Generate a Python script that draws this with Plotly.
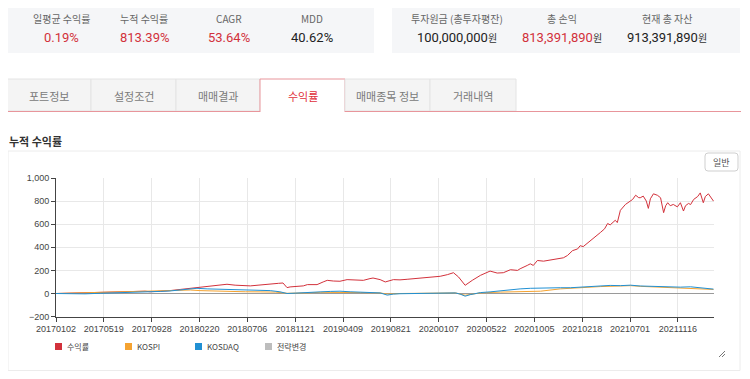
import plotly.graph_objects as go

# ---------------- data ----------------
tick_labels = ["20170102", "20170519", "20170928", "20180220", "20180706", "20181121", "20190409",
               "20190821", "20200107", "20200522", "20201005", "20210218", "20210701", "20211116"]
tick_step = 94  # trading days between labelled ticks
last_day = 1293

ret_day = [0, 28, 57, 87, 116, 146, 175, 185, 205, 224, 244, 264, 277, 297, 313, 336, 352, 368, 382, 397,
           407, 421, 437, 446, 454, 460, 470, 486, 494, 513, 525, 533, 545, 558, 572, 588, 604, 617, 623, 637,
           647, 663, 676, 690, 706, 722, 735, 755, 769, 781, 791, 798, 804, 818, 834, 853, 867, 879, 893, 907,
           912, 926, 932, 938, 946, 958, 971, 985, 997, 1005, 1015, 1025, 1030, 1036, 1050, 1060, 1070, 1078,
           1084, 1089, 1099, 1103, 1109, 1119, 1125, 1133, 1139, 1145, 1148, 1154, 1160, 1164, 1168, 1174,
           1182, 1188, 1194, 1198, 1202, 1207, 1213, 1221, 1227, 1233, 1237, 1243, 1247, 1253, 1261, 1266,
           1272, 1276, 1282, 1288, 1292]
ret_val = [0, 3, 6, 10, 14, 18, 20, 15, 18, 25, 35, 45, 50, 57, 65, 80, 72, 70, 66, 72,
           77, 86, 88, 91, 51, 57, 62, 66, 77, 77, 100, 114, 108, 106, 120, 116, 114, 129, 134, 120,
           100, 120, 118, 123, 130, 134, 140, 149, 163, 180, 143, 100, 71, 114, 157, 194, 177, 180, 206, 200,
           214, 243, 257, 243, 286, 280, 291, 300, 309, 329, 371, 386, 414, 406, 457, 486, 529, 560,
           606, 594, 634, 614, 720, 771, 790, 814, 851, 830, 829, 843, 800, 737, 820, 863,
           850, 829, 700, 760, 786, 760, 771, 750, 786, 714, 760, 780, 770, 814, 840, 871,
           786, 840, 863, 820, 800]

kosdaq_day = [0, 28, 57, 87, 116, 146, 175, 185, 205, 224, 244, 264, 277, 297, 313, 336, 362, 382, 401, 421,
              440, 454, 470, 490, 519, 539, 558, 578, 598, 617, 637, 651, 663, 676, 706, 735, 765, 785, 794,
              804, 814, 834, 853, 873, 893, 912, 932, 952, 971, 991, 1011, 1030, 1050, 1070, 1089, 1109,
              1129, 1148, 1168, 1188, 1207, 1227, 1247, 1266, 1280, 1292]
kosdaq_val = [0, -2, -3, 2, 5, 8, 10, 12, 18, 22, 30, 43, 45, 40, 38, 35, 30, 28, 30, 25,
              15, 0, 3, 10, 14, 18, 20, 15, 10, 8, 5, -14, -5, -2, 0, 5, 8, 5, -5,
              -23, -10, 8, 14, 25, 35, 40, 45, 48, 45, 50, 50, 55, 62, 65, 70, 68,
              72, 65, 62, 58, 60, 55, 58, 52, 45, 38]

kospi_day = [0, 28, 57, 87, 116, 146, 175, 185, 205, 224, 244, 264, 283, 313, 342, 372, 401, 431, 454, 470,
             490, 519, 558, 598, 637, 651, 676, 735, 785, 804, 834, 873, 912, 952, 991, 1030, 1070, 1109,
             1129, 1148, 1188, 1227, 1266, 1292]
kospi_val = [0, 3, 8, 12, 16, 20, 22, 18, 20, 22, 25, 30, 25, 20, 18, 15, 14, 12, 2, 2,
             5, 10, 12, 8, 5, -5, 0, 3, 5, -15, 5, 12, 15, 20, 40, 52, 60, 65,
             68, 62, 55, 50, 45, 35]

stat_labels_l = ["일평균 수익률", "누적 수익률", "CAGR", "MDD"]
stat_values_l = ["0.19%", "813.39%", "53.64%", "40.62%"]
stat_labels_r = ["투자원금 (총투자평잔)", "총 손익", "현재 총 자산"]
stat_values_r = ["100,000,000", "813,391,890", "913,391,890"]
tab_names = ["포트정보", "설정조건", "매매결과", "수익률", "매매종목 정보", "거래내역"]
legend_names = ["수익률", "KOSPI", "KOSDAQ", "전략변경"]

# ---------------- style ----------------
# the page body keeps its default 8px margin, so the figure starts at (8, 8)
OX, OY = 8, 8
W, H = 742, 363
RED = "#d2313b"
ORANGE = "#f5a331"
BLUE = "#2190d3"
GRAY = "#bdbdbd"
KFONT = "Noto Sans CJK KR, Noto Sans, sans-serif"
NFONT = "Roboto, Noto Sans CJK KR, sans-serif"


def fx(x):
    return (x - OX) / W


def fy(y):
    return 1 - (y - OY) / H


fig = go.Figure()
fig.add_trace(go.Scatter(x=ret_day, y=ret_val, mode="lines", name=legend_names[0],
                         line=dict(color=RED, width=1)))
fig.add_trace(go.Scatter(x=kospi_day, y=kospi_val, mode="lines", name=legend_names[1],
                         line=dict(color=ORANGE, width=1)))
fig.add_trace(go.Scatter(x=kosdaq_day, y=kosdaq_val, mode="lines", name=legend_names[2],
                         line=dict(color=BLUE, width=1)))

shapes = []
annotations = []

# stat panels
shapes.append(dict(type="rect", xref="paper", yref="paper", x0=fx(7), x1=fx(374), y0=fy(53), y1=fy(5),
                   fillcolor="#f5f6f8", line=dict(width=0), layer="below"))
shapes.append(dict(type="rect", xref="paper", yref="paper", x0=fx(392), x1=fx(740), y0=fy(53), y1=fy(5),
                   fillcolor="#f5f6f8", line=dict(width=0), layer="below"))
left_cx = [61, 144, 229, 312]
left_col = [RED, RED, RED, "#222222"]
for cx, lab, val, col in zip(left_cx, stat_labels_l, stat_values_l, left_col):
    annotations.append(dict(x=fx(cx), y=fy(19), xref="paper", yref="paper", text=lab, showarrow=False,
                            font=dict(family=KFONT, size=10, color="#666666"), xanchor="center", yanchor="middle"))
    annotations.append(dict(x=fx(cx), y=fy(38), xref="paper", yref="paper", text=val, showarrow=False,
                            font=dict(family=NFONT, size=13, color=col), xanchor="center", yanchor="middle"))
right_cx = [457, 562, 667]
right_col = ["#222222", RED, "#222222"]
for cx, lab, val, col in zip(right_cx, stat_labels_r, stat_values_r, right_col):
    annotations.append(dict(x=fx(cx), y=fy(19), xref="paper", yref="paper", text=lab, showarrow=False,
                            font=dict(family=KFONT, size=10, color="#666666"), xanchor="center", yanchor="middle"))
    annotations.append(dict(x=fx(cx), y=fy(38), xref="paper", yref="paper",
                            text=val + "<span style='font-size:10px;color:#333333'>원</span>", showarrow=False,
                            font=dict(family=NFONT, size=13, color=col), xanchor="center", yanchor="middle"))

# tabs
tab_edges = [7, 91, 176, 260, 345, 430, 516]
SEL = 3
PINK = "#e8959b"
for i, name in enumerate(tab_names):
    x0, x1 = tab_edges[i], tab_edges[i + 1]
    if i == SEL:
        shapes.append(dict(type="rect", xref="paper", yref="paper", x0=fx(x0), x1=fx(x1), y0=fy(112), y1=fy(79),
                           fillcolor="white", line=dict(width=0)))
        shapes.append(dict(type="path", xref="paper", yref="paper",
                           path=f"M {fx(x0)} {fy(112)} L {fx(x0)} {fy(79)} L {fx(x1)} {fy(79)} L {fx(x1)} {fy(112)}",
                           line=dict(color=PINK, width=1)))
        tcol = "#e0303a"
    else:
        shapes.append(dict(type="rect", xref="paper", yref="paper", x0=fx(x0), x1=fx(x1), y0=fy(111), y1=fy(79),
                           fillcolor="#f4f4f4", line=dict(color="#e4e4e4", width=1)))
        tcol = "#7a7a7a"
    annotations.append(dict(x=fx((x0 + x1) / 2), y=fy(96), xref="paper", yref="paper", text=name, showarrow=False,
                            font=dict(family=KFONT, size=11, color=tcol), xanchor="center", yanchor="middle"))
shapes.append(dict(type="line", xref="paper", yref="paper", x0=fx(7), x1=fx(260), y0=fy(111.5), y1=fy(111.5),
                   line=dict(color=PINK, width=1.2)))
shapes.append(dict(type="line", xref="paper", yref="paper", x0=fx(345), x1=fx(741), y0=fy(111.5), y1=fy(111.5),
                   line=dict(color=PINK, width=1.2)))

# section title
annotations.append(dict(x=fx(7), y=fy(141), xref="paper", yref="paper", text="<b>누적 수익률</b>", showarrow=False,
                        font=dict(family=KFONT, size=11, color="#333333"), xanchor="left", yanchor="middle"))

# chart container
shapes.append(dict(type="rect", xref="paper", yref="paper", x0=fx(8), x1=fx(740), y0=fy(370.5), y1=fy(151),
                   fillcolor="rgba(0,0,0,0)", line=dict(color="#ececec", width=1), layer="below"))
# "일반" button
bx0, bx1, by0, by1, r = 705, 738, 153, 171, 3
shapes.append(dict(type="path", xref="paper", yref="paper",
                   path=(f"M {fx(bx0 + r)} {fy(by0)} L {fx(bx1 - r)} {fy(by0)} Q {fx(bx1)} {fy(by0)} {fx(bx1)} {fy(by0 + r)} "
                         f"L {fx(bx1)} {fy(by1 - r)} Q {fx(bx1)} {fy(by1)} {fx(bx1 - r)} {fy(by1)} "
                         f"L {fx(bx0 + r)} {fy(by1)} Q {fx(bx0)} {fy(by1)} {fx(bx0)} {fy(by1 - r)} "
                         f"L {fx(bx0)} {fy(by0 + r)} Q {fx(bx0)} {fy(by0)} {fx(bx0 + r)} {fy(by0)} Z"),
                   fillcolor="white", line=dict(color="#cfcfcf", width=1)))
annotations.append(dict(x=fx(721.5), y=fy(162), xref="paper", yref="paper", text="일반", showarrow=False,
                        font=dict(family=KFONT, size=9, color="#555555"), xanchor="center", yanchor="middle"))
# resize handle
shapes.append(dict(type="line", xref="paper", yref="paper", x0=fx(719), x1=fx(725), y0=fy(357), y1=fy(351),
                   line=dict(color="#777777", width=1)))
shapes.append(dict(type="line", xref="paper", yref="paper", x0=fx(722), x1=fx(725), y0=fy(357), y1=fy(354),
                   line=dict(color="#777777", width=1)))

# legend (manual)
leg_x = [55, 125, 195, 265]
leg_c = [RED, ORANGE, BLUE, GRAY]
for lx, name, c in zip(leg_x, legend_names, leg_c):
    shapes.append(dict(type="rect", xref="paper", yref="paper", x0=fx(lx), x1=fx(lx + 7), y0=fy(350), y1=fy(343),
                       fillcolor=c, line=dict(width=0)))
    annotations.append(dict(x=fx(lx + 10), y=fy(346.5), xref="paper", yref="paper", text=name, showarrow=False,
                            font=dict(family="Liberation Sans Narrow, " + KFONT, size=8, color="#444444"),
                            xanchor="left", yanchor="middle"))

tick_font = dict(family="Liberation Sans Narrow, Liberation Sans, sans-serif", size=9, color="#444444")
fig.update_layout(
    width=W, height=H, margin=dict(l=0, r=0, t=0, b=0, pad=0, autoexpand=False),
    paper_bgcolor="white", plot_bgcolor="white",
    showlegend=False,
    shapes=shapes, annotations=annotations,
    xaxis=dict(domain=[fx(56), fx(714)], range=[0, last_day], automargin=False,
               tickmode="array", tickvals=[i * tick_step for i in range(len(tick_labels))], ticktext=tick_labels,
               showgrid=True, gridcolor="#e8e8e8", gridwidth=1,
               showline=True, linecolor="#444444", linewidth=1,
               ticks="outside", ticklen=4, tickcolor="#444444", tickfont=tick_font, zeroline=False),
    yaxis=dict(domain=[fy(316.6), fy(178)], range=[-200, 1000], dtick=200, tickformat=",", automargin=False,
               showgrid=True, gridcolor="#e8e8e8", gridwidth=1,
               showline=True, linecolor="#444444", linewidth=1,
               ticks="outside", ticklen=4, tickcolor="#444444", tickfont=tick_font,
               zeroline=True, zerolinecolor="#9a9a9a", zerolinewidth=1),
)

fig.write_html("out.html")
